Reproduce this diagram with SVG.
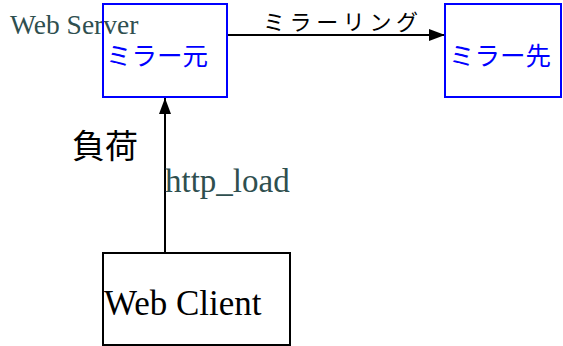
<svg xmlns="http://www.w3.org/2000/svg" width="563" height="346" viewBox="0 0 563 346">
<style>
.srv{fill:none;stroke:#0000ff;stroke-width:2}
.cli{fill:#fff;stroke:#000;stroke-width:2}
.lat{font-family:"Liberation Serif","Times New Roman",serif}
.jp{font-family:"Noto Sans CJK JP","Noto Sans",sans-serif}
.gray{fill:#2f4f4f}
.blue{fill:#0000ff}
.edge{stroke:#000;stroke-width:2;fill:none}
</style>
<defs>
<marker id="ah" viewBox="0 0 16 12" refX="16" refY="6" markerWidth="16" markerHeight="12" markerUnits="userSpaceOnUse" orient="auto">
<path d="M0,0 L16,6 L0,12 Z" fill="#000"/>
</marker>
</defs>
<text class="lat gray" x="10" y="34" font-size="27.5">Web Server</text>
<g id="connectors">
<line class="edge" x1="227" y1="35" x2="445" y2="35" marker-end="url(#ah)"/>
<text class="jp" x="263" y="30" font-size="22" textLength="155" fill="#000">ミラーリング</text>
<line class="edge" x1="165" y1="253" x2="165" y2="98" marker-end="url(#ah)"/>
<text class="jp" x="72" y="158" font-size="33" fill="#000">負荷</text>
<text class="lat gray" x="165" y="192" font-size="33">http_load</text>
</g>
<g id="mirror-src">
<rect class="srv" x="103" y="4" width="124" height="93"/>
<text class="jp blue" x="106" y="65" font-size="25.5">ミラー元</text>
</g>
<g id="mirror-dst">
<rect class="srv" x="445" y="4" width="116" height="93"/>
<text class="jp blue" x="449" y="65" font-size="25.5">ミラー先</text>
</g>
<g id="web-client">
<rect class="cli" x="103" y="253" width="187" height="92"/>
<text class="lat" x="104" y="315" font-size="35" fill="#000">Web Client</text>
</g>
</svg>
